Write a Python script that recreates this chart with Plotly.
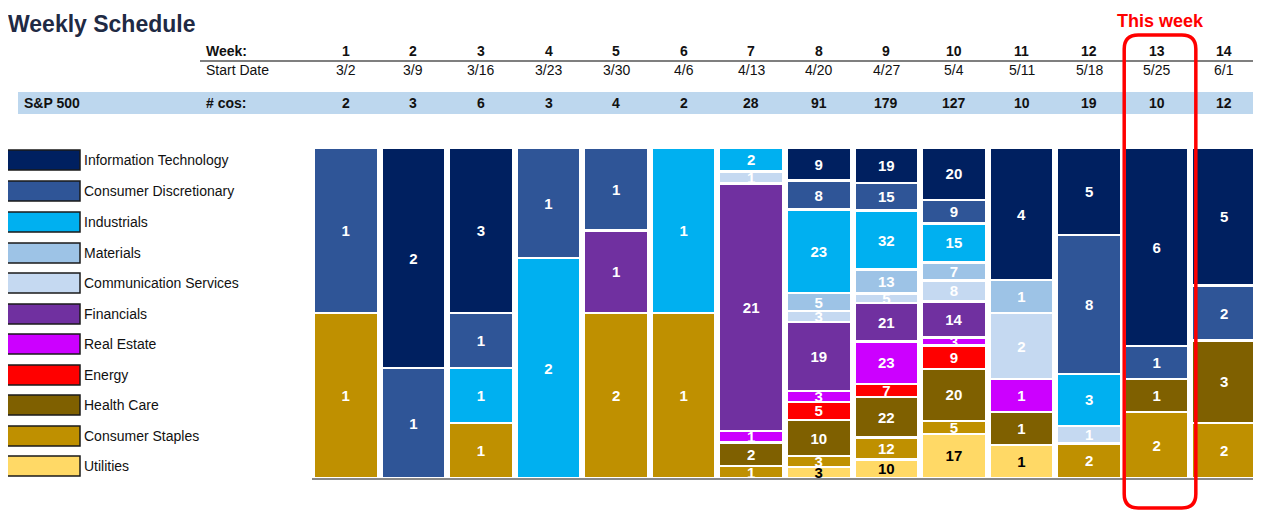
import plotly.graph_objects as go

weeks = list(range(1, 15))
start_dates = ["3/2", "3/9", "3/16", "3/23", "3/30", "4/6", "4/13", "4/20", "4/27", "5/4", "5/11", "5/18", "5/25", "6/1"]
num_cos = [2, 3, 6, 3, 4, 2, 28, 91, 179, 127, 10, 19, 10, 12]

# sectors listed bottom -> top of stack
utilities       = [0, 0, 0, 0, 0, 0, 0, 3, 10, 17, 1, 0, 0, 0]
cons_staples    = [1, 0, 1, 0, 2, 1, 1, 3, 12, 5, 0, 2, 2, 2]
health_care     = [0, 0, 0, 0, 0, 0, 2, 10, 22, 20, 1, 0, 1, 3]
energy          = [0, 0, 0, 0, 0, 0, 0, 5, 7, 9, 0, 0, 0, 0]
real_estate     = [0, 0, 0, 0, 0, 0, 1, 3, 23, 3, 1, 0, 0, 0]
financials      = [0, 0, 0, 0, 1, 0, 21, 19, 21, 14, 0, 0, 0, 0]
comm_services   = [0, 0, 0, 0, 0, 0, 1, 3, 5, 8, 2, 1, 0, 0]
materials       = [0, 0, 0, 0, 0, 0, 0, 5, 13, 7, 1, 0, 0, 0]
industrials     = [0, 0, 1, 2, 0, 1, 2, 23, 32, 15, 0, 3, 0, 0]
cons_discr      = [1, 1, 1, 1, 1, 0, 0, 8, 15, 9, 0, 8, 1, 2]
info_tech       = [0, 2, 3, 0, 0, 0, 0, 9, 19, 20, 4, 5, 6, 5]

sectors = [
    ("Utilities", utilities, "#FFD966", "black"),
    ("Consumer Staples", cons_staples, "#BF9000", "white"),
    ("Health Care", health_care, "#7F6000", "white"),
    ("Energy", energy, "#FF0000", "white"),
    ("Real Estate", real_estate, "#CC00FF", "white"),
    ("Financials", financials, "#7030A0", "white"),
    ("Communication Services", comm_services, "#C5D9F1", "white"),
    ("Materials", materials, "#9DC3E6", "white"),
    ("Industrials", industrials, "#00B0F0", "white"),
    ("Consumer Discretionary", cons_discr, "#2F5597", "white"),
    ("Information Technology", info_tech, "#002060", "white"),
]

# page body has an 8px margin: size the figure so it sits inside the window
OFF = 8
W, H = 1261 - OFF, 514 - OFF
L = 312 - OFF
T = 148 - OFF
R = W - (1258 - OFF)
B = H - (478 - OFF)
PW = W - L - R
PH = H - T - B

def px(x):
    return (x - OFF - L) / PW

def py(y):
    return (H - B - (y - OFF)) / PH

fig = go.Figure()
for name, vals, color, tcol in sectors:
    fig.add_trace(go.Bar(
        x=weeks,
        y=[v if v else None for v in vals],
        text=[str(v) if v else "" for v in vals],
        texttemplate="%{text}",
        textposition="inside",
        insidetextanchor="middle",
        textangle=0,
        textfont=dict(family="Liberation Sans, Arial", size=15, color=tcol, weight="bold"),
        marker=dict(color=color, line=dict(color="white", width=2.5)),
        name=name,
        hoverinfo="skip",
        showlegend=False,
    ))

shapes = []
annotations = []

# title
annotations.append(dict(xref="paper", yref="paper", x=px(6), y=py(9), xanchor="left", yanchor="top",
                        text="<b>Weekly Schedule</b>", showarrow=False,
                        font=dict(family="Liberation Sans Narrow, Liberation Sans, Arial", size=23, color="#1F2A44")))

# header band
shapes.append(dict(type="rect", xref="paper", yref="paper", x0=px(18), x1=px(1258), y0=py(114), y1=py(92),
                   fillcolor="#BDD7EE", line=dict(width=0), layer="below"))
shapes.append(dict(type="line", xref="paper", yref="paper", x0=px(200), x1=px(1258), y0=py(61), y1=py(61),
                   line=dict(color="#555555", width=1.5)))

hfont_b = dict(family="Liberation Sans, Arial", size=14, color="#111111")
hfont_n = dict(family="Liberation Sans Narrow, Liberation Sans, Arial", size=14, color="#111111")

annotations.append(dict(xref="paper", yref="paper", x=px(204), y=py(51), xanchor="left", yanchor="middle",
                        text="<b>Week:</b>", showarrow=False, font=hfont_b))
annotations.append(dict(xref="paper", yref="paper", x=px(204), y=py(70), xanchor="left", yanchor="middle",
                        text="Start Date", showarrow=False, font=hfont_n))
annotations.append(dict(xref="paper", yref="paper", x=px(22), y=py(103), xanchor="left", yanchor="middle",
                        text="<b>S&P 500</b>", showarrow=False, font=hfont_b))
annotations.append(dict(xref="paper", yref="paper", x=px(204), y=py(103), xanchor="left", yanchor="middle",
                        text="<b># cos:</b>", showarrow=False, font=hfont_b))

for wk, d, n in zip(weeks, start_dates, num_cos):
    annotations.append(dict(xref="x", yref="paper", x=wk, y=py(51), xanchor="center", yanchor="middle",
                            text=f"<b>{wk}</b>", showarrow=False, font=hfont_b))
    annotations.append(dict(xref="x", yref="paper", x=wk, y=py(70), xanchor="center", yanchor="middle",
                            text=d, showarrow=False, font=hfont_n))
    annotations.append(dict(xref="x", yref="paper", x=wk, y=py(103), xanchor="center", yanchor="middle",
                            text=f"<b>{n}</b>", showarrow=False, font=hfont_b))

# custom legend (top -> bottom)
row_y = [160, 191, 222, 253, 283, 314, 344, 375, 405, 436, 466]
for (name, vals, color, tcol), yc in zip(reversed(sectors), row_y):
    shapes.append(dict(type="rect", xref="paper", yref="paper", x0=px(6), x1=px(80),
                       y0=py(yc + 10), y1=py(yc - 10), fillcolor=color,
                       line=dict(color="#1a1a1a", width=1.5)))
    annotations.append(dict(xref="paper", yref="paper", x=px(82), y=py(yc), xanchor="left", yanchor="middle",
                            text=name, showarrow=False, font=hfont_n))

# "This week" highlight around week 13
hl_week = 13
x0, x1 = hl_week - 0.48, hl_week + 0.58
y0, y1 = py(508), py(35)
rx = 14 / (PW / 14)
ry = 14 / PH
path = (f"M {x0+rx},{y1} L {x1-rx},{y1} Q {x1},{y1} {x1},{y1-ry} "
        f"L {x1},{y0+ry} Q {x1},{y0} {x1-rx},{y0} L {x0+rx},{y0} "
        f"Q {x0},{y0} {x0},{y0+ry} L {x0},{y1-ry} Q {x0},{y1} {x0+rx},{y1} Z")
shapes.append(dict(type="path", xref="x", yref="paper", path=path, line=dict(color="#FF0000", width=3.5)))
annotations.append(dict(xref="x", yref="paper", x=hl_week + 0.06, y=py(9), xanchor="center", yanchor="top",
                        text="<b>This week</b>", showarrow=False,
                        font=dict(family="Liberation Sans, Arial", size=18, color="#FF0000")))

fig.update_layout(
    width=W, height=H,
    margin=dict(l=L, r=R, t=T, b=B, pad=0),
    barmode="stack", barnorm="percent", bargap=0.05,
    plot_bgcolor="white", paper_bgcolor="white",
    xaxis=dict(range=[0.5, 14.5], showticklabels=False, ticks="", showgrid=False, zeroline=False,
               showline=True, linecolor="#888888", linewidth=1.5),
    yaxis=dict(range=[0, 100], visible=False, showgrid=False),
    uniformtext=dict(minsize=15, mode="show"),
    shapes=shapes, annotations=annotations,
)

fig.write_html("out.html")
